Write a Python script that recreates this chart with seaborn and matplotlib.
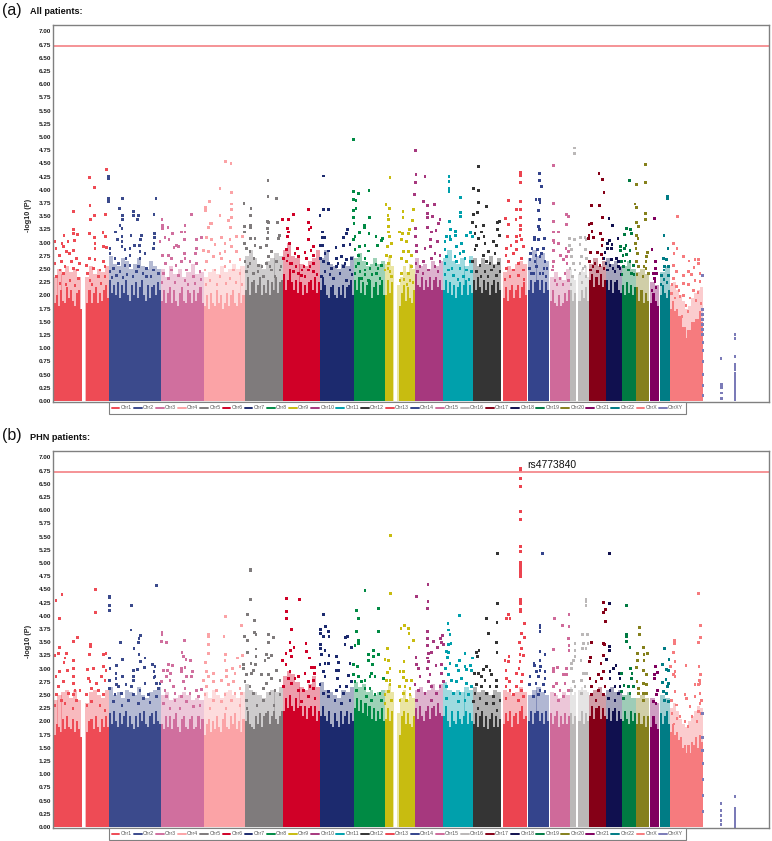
import matplotlib
matplotlib.use('Agg')
import matplotlib.pyplot as plt
from matplotlib.lines import Line2D
import pandas as pd
import seaborn as sns

chroms = ['Chr%d' % i for i in range(1, 23)] + ['ChrX', 'ChrXY']
colors = ['#EE4B55', '#3B4A8C', '#D06F9E', '#FBA3A6', '#7F7B7C', '#D00027', '#1C2A6E', '#008A44',
          '#C8BC10', '#A6387E', '#00A0AC', '#343434', '#EC4450', '#34448C', '#CF6A9A', '#BBB8B8',
          '#850017', '#10104F', '#007A42', '#85801C', '#80005F', '#007C85', '#F67B7E', '#7B7BB8']
# genome position of each chromosome block (start, end)
starts = [53.5, 109, 160.5, 203.5, 244.5, 283, 320, 354, 385, 415, 443, 473, 503, 528, 550, 570, 589, 606, 622, 636, 650, 660, 670]
ends = [109, 160.5, 203.5, 244.5, 283, 320, 354, 385, 415, 443, 473, 501, 527, 549, 570, 589, 606, 622, 636, 649, 659, 670, 703]
threshold = 6.72
yticks = [i * 0.25 for i in range(29)]

# dense part of each chromosome, panel (a): top of the filled band along the chromosome
a_h1 = [1.85, 2.0, 1.8, 2.1, 1.9, 1.85, 2.15, 1.95, 2.1, 1.9, 1.8, 2.05, 2.1, 1.75, 0, 0, 1.85, 2.1, 1.85, 2.05, 2.15, 1.85, 2.05, 1.9, 2.1, 2.2, 1.95]
a_h2 = [2.3, 2.05, 2.2, 2.0, 2.25, 1.95, 2.2, 2.05, 2.3, 2.0, 1.9, 2.2, 2.0, 2.25, 1.95, 2.15, 2.3, 2.0, 1.9, 2.2, 1.95, 2.15, 2.2, 2.0, 2.25, 2.1]
a_h3 = [1.9, 2.1, 1.85, 2.05, 2.15, 1.85, 2.1, 1.9, 1.8, 2.05, 2.15, 1.9, 1.85, 2.1, 2.05, 1.85, 2.1, 1.9, 2.05, 2.15, 1.85]
a_h4 = [1.8, 2.0, 1.75, 2.05, 1.85, 1.8, 2.1, 1.85, 2.0, 1.75, 1.85, 2.05, 1.8, 2.0, 2.1, 1.85, 1.8, 2.05, 1.85, 2.0]
a_h5 = [2.1, 2.35, 2.0, 2.25, 2.3, 2.05, 2.2, 2.35, 2.0, 2.2, 2.05, 2.3, 2.0, 2.25, 2.1, 2.35, 2.05, 2.25, 2.3]
a_h6 = [2.4, 2.1, 2.3, 2.5, 2.25, 2.1, 2.3, 2.05, 2.25, 2.0, 2.2, 2.05, 2.25, 2.3, 2.1, 2.35, 2.05, 2.25]
a_h7 = [2.1, 2.35, 2.2, 2.0, 1.95, 2.15, 2.2, 2.0, 1.95, 2.15, 2.0, 2.2, 1.95, 2.15, 2.2, 2.3, 2.0]
a_h8 = [2.3, 2.1, 2.35, 2.05, 2.25, 2.0, 2.2, 2.3, 1.95, 2.15, 2.25, 2.0, 2.2, 2.3, 2.0]
a_h9 = [2.0, 2.3, 2.05, 2.25, 0, 0, 0, 1.8, 2.05, 2.2, 1.9, 2.15, 1.95, 1.85, 2.1]
a_h10 = [2.4, 2.2, 2.15, 2.35, 2.1, 2.3, 2.15, 2.35, 2.1, 2.3, 2.35, 2.15, 2.3, 2.1]
a_h11 = [2.1, 2.3, 2.05, 2.25, 2.0, 2.2, 1.95, 2.15, 2.25, 2.0, 2.2, 2.3, 2.0, 2.2, 2.05]
a_h12 = [2.3, 2.1, 2.35, 2.15, 2.05, 2.3, 2.1, 2.25, 2.0, 2.2, 2.3, 2.05, 2.25, 2.1]
a_h13 = [1.95, 2.15, 1.9, 2.1, 2.2, 1.95, 2.1, 2.2, 1.95, 2.15, 2.25, 2.0]
a_h14 = [2.1, 2.3, 2.05, 2.25, 2.3, 2.1, 2.3, 2.05, 2.25, 2.1]
a_h15 = [1.9, 2.1, 1.85, 1.8, 2.0, 1.8, 1.85, 2.05, 1.9, 2.1]
a_h16 = [2.1, 1.9, 2.05, 0, 1.9, 2.1, 1.95, 2.15, 1.9]
a_h17 = [2.3, 2.4, 2.15, 2.35, 2.2, 2.4, 2.15, 2.3]
a_h18 = [2.3, 2.1, 2.3, 2.05, 2.25, 2.3, 2.1, 2.05]
a_h19 = [2.2, 2.0, 2.25, 2.05, 2.2, 2.0, 2.15]
a_h20 = [2.15, 1.9, 2.1, 1.85, 2.05, 1.9]
a_h21 = [1.85, 2.05, 1.9, 1.8]
a_h22 = [2.0, 2.2, 2.05, 1.95, 2.1]
a_hX = [1.75, 1.9, 1.7, 1.75, 1.6, 1.6, 1.4, 1.4, 1.2, 1.35, 1.35, 1.5, 1.5, 1.55, 1.55, 1.7, 1.5]

# dense part, panel (b)
b_h1 = [1.75, 1.95, 1.9, 1.8, 2.05, 1.85, 2.1, 1.9, 1.85, 2.05, 1.8, 2.0, 1.85, 1.7, 0, 0, 1.8, 2.0, 2.05, 1.85, 2.1, 1.9, 1.8, 2.05, 1.9, 2.1, 1.9]
b_h2 = [2.15, 1.95, 2.2, 2.0, 1.9, 2.15, 1.95, 2.1, 2.2, 1.9, 2.1, 1.95, 1.85, 2.1, 1.9, 2.15, 2.0, 2.2, 1.95, 1.9, 2.1, 2.15, 1.95, 2.2, 2.0, 1.95]
b_h3 = [1.95, 1.85, 2.1, 1.9, 2.1, 1.85, 2.05, 2.15, 1.9, 1.8, 2.05, 2.1, 1.9, 1.85, 2.05, 2.1, 1.85, 1.9, 2.1, 1.85, 2.05]
b_h4 = [1.75, 1.95, 2.05, 1.8, 2.0, 1.85, 2.1, 1.9, 1.8, 2.05, 2.15, 1.9, 1.85, 2.1, 1.95, 2.15, 1.85, 2.0, 1.8, 2.05]
b_h5 = [2.0, 2.2, 1.95, 1.9, 1.85, 2.1, 1.95, 2.15, 1.9, 2.1, 2.15, 2.2, 1.95, 2.1, 2.2, 2.05, 1.95, 2.1, 2.2]
b_h6 = [2.2, 2.45, 2.25, 2.5, 2.3, 2.2, 2.45, 2.25, 2.3, 2.1, 2.3, 2.05, 2.25, 2.3, 2.1, 2.3, 2.0, 2.2]
b_h7 = [2.1, 2.3, 2.1, 2.0, 2.2, 1.95, 1.9, 2.15, 2.0, 1.9, 2.2, 1.95, 2.1, 2.2, 1.95, 2.15, 2.0]
b_h8 = [2.25, 2.45, 2.2, 2.4, 2.15, 2.35, 2.1, 2.3, 2.05, 2.25, 2.0, 2.2, 2.05, 2.25, 2.0]
b_h9 = [2.05, 2.25, 2.0, 2.2, 0, 0, 0, 1.75, 2.1, 2.2, 1.95, 2.15, 1.95, 1.9, 2.1]
b_h10 = [2.25, 2.05, 2.3, 2.1, 2.0, 2.2, 2.3, 2.05, 2.25, 2.3, 2.1, 2.35, 2.15, 2.1]
b_h11 = [2.1, 2.3, 2.0, 1.9, 2.2, 2.0, 1.95, 2.2, 2.05, 1.95, 2.1, 2.2, 1.95, 2.15, 2.0]
b_h12 = [1.95, 2.15, 1.9, 2.1, 2.2, 1.9, 2.1, 1.85, 2.05, 2.15, 1.9, 2.1, 1.9, 2.05]
b_h13 = [1.95, 2.15, 2.0, 2.2, 1.9, 2.1, 2.15, 1.95, 2.2, 2.3, 2.05, 2.1]
b_h14 = [2.0, 2.2, 1.95, 2.15, 2.2, 2.0, 2.15, 1.95, 2.2, 2.0]
b_h15 = [2.15, 1.95, 2.1, 2.2, 1.9, 2.1, 1.95, 2.15, 1.95, 2.1]
b_h16 = [2.15, 1.95, 2.1, 0, 2.0, 2.2, 1.95, 2.15, 2.0]
b_h17 = [2.1, 2.3, 2.05, 2.25, 2.3, 2.05, 2.25, 2.1]
b_h18 = [2.05, 2.25, 2.0, 2.2, 2.25, 2.0, 2.2, 2.05]
b_h19 = [2.0, 2.2, 2.05, 1.95, 2.2, 2.0, 2.15]
b_h20 = [1.95, 2.15, 1.95, 2.1, 1.9, 2.1]
b_h21 = [1.9, 2.1, 1.95, 1.85]
b_h22 = [2.15, 1.95, 2.1, 2.2, 1.95]
b_hX = [1.8, 1.95, 1.75, 1.8, 1.65, 1.7, 1.5, 1.55, 1.4, 1.55, 1.4, 1.6, 1.55, 1.7, 1.5, 1.75, 1.6]

# top of the looser cloud of points over the dense part, panel (a)
a_c1 = [2.35, 2.5, 2.4, 2.55, 2.45, 2.5, 2.35, 0, 2.35, 2.55, 2.4, 2.5, 2.45, 2.55]
a_c2 = [2.75, 2.6, 2.55, 2.7, 2.65, 2.5, 2.6, 2.7, 2.55, 2.5, 2.65, 2.55, 2.5]
a_c3 = [2.5, 2.35, 2.55, 2.4, 2.5, 2.35, 2.45, 2.6, 2.4, 2.45]
a_c4 = [2.35, 2.45, 2.5, 2.4, 2.55, 2.45, 2.5, 2.6, 2.5, 2.55]
a_c5 = [2.75, 2.85, 2.7, 2.6, 2.5, 2.65, 2.7, 2.8, 2.75]
a_c6 = [2.85, 3.0, 2.75, 2.7, 2.6, 2.55, 2.65, 2.7, 2.85]
a_c7 = [2.7, 2.85, 2.6, 2.55, 2.5, 2.6, 2.55, 2.75]
a_c8 = [2.7, 2.8, 2.65, 2.55, 2.6, 2.7, 2.6, 2.65]
a_c9 = [2.6, 2.75, 2.55, 0, 2.2, 2.35, 2.55, 2.45, 2.6, 2.5]
a_c10 = [2.7, 2.55, 2.6, 2.5, 2.65, 2.55, 2.65]
a_c11 = [2.7, 2.85, 2.65, 2.6, 2.7, 2.55, 2.75]
a_c12 = [2.7, 2.55, 2.7, 2.6, 2.75, 2.6, 2.7]
a_c13 = [2.45, 2.55, 2.5, 2.6, 2.65, 2.6]
a_c14 = [2.7, 2.85, 2.75, 2.8, 2.65]
a_c15 = [2.35, 2.45, 2.35, 2.3, 2.5]
a_c16 = [2.5, 2.35, 2.3, 0, 2.4, 2.5, 2.45, 2.55, 2.35]
a_c17 = [2.6, 2.7, 2.55, 2.65]
a_c18 = [2.7, 2.6, 2.65, 2.55]
a_c19 = [2.55, 2.65, 2.5]
a_c20 = [2.45, 2.5, 2.4]
a_c21 = [2.25, 2.2]
a_c22 = [2.45, 2.55]
a_cX = [2.2, 2.25, 2.1, 2.0, 1.9, 1.75, 1.8, 1.95, 2.05, 2.1, 2.15]

# looser cloud, panel (b)
b_c1 = [2.4, 2.5, 2.55, 2.6, 2.45, 2.6, 2.4, 0, 2.35, 2.55, 2.6, 2.5, 2.45, 2.6]
b_c2 = [2.65, 2.5, 2.55, 2.45, 2.6, 2.55, 2.5, 2.65, 2.5, 2.45, 2.55, 2.6, 2.65]
b_c3 = [2.5, 2.55, 2.4, 2.45, 2.5, 2.55, 2.5, 2.4, 2.45, 2.4]
b_c4 = [2.55, 2.45, 2.6, 2.5, 2.45, 2.55, 2.6, 2.5, 2.45, 2.55]
b_c5 = [2.7, 2.6, 2.55, 2.5, 2.45, 2.55, 2.6, 2.55, 2.65]
b_c6 = [2.85, 2.95, 2.9, 2.75, 2.65, 2.6, 2.7, 2.85, 2.65]
b_c7 = [2.75, 2.6, 2.55, 2.5, 2.45, 2.6, 2.55, 2.65]
b_c8 = [2.75, 2.65, 2.7, 2.55, 2.6, 2.5, 2.55, 2.6]
b_c9 = [2.6, 2.7, 2.55, 0, 2.15, 2.45, 2.6, 2.4, 2.5, 2.45]
b_c10 = [2.6, 2.65, 2.55, 2.6, 2.7, 2.6, 2.7]
b_c11 = [2.75, 2.6, 2.55, 2.6, 2.55, 2.65, 2.6]
b_c12 = [2.65, 2.55, 2.6, 2.55, 2.5, 2.6, 2.55]
b_c13 = [2.6, 2.55, 2.5, 2.55, 2.65, 2.55]
b_c14 = [2.5, 2.6, 2.65, 2.55, 2.5]
b_c15 = [2.55, 2.5, 2.45, 2.55, 2.5]
b_c16 = [2.65, 2.5, 2.55, 0, 2.6, 2.65, 2.6, 2.6, 2.55]
b_c17 = [2.5, 2.6, 2.65, 2.5]
b_c18 = [2.6, 2.65, 2.55, 2.6]
b_c19 = [2.5, 2.55, 2.45]
b_c20 = [2.45, 2.5, 2.45]
b_c21 = [2.45, 2.35]
b_c22 = [2.5, 2.45]
b_cX = [2.25, 2.35, 2.2, 2.05, 1.95, 1.9, 2.0, 2.1, 2.2, 2.3, 2.25]

# points above the dense part, panel (a): (position, -log10 P)
a_p1 = [(106.3,4.39),(89.7,4.23),(94.7,4.04),(90,3.7),(73.3,3.58),(105.3,3.53),(94.7,3.52),(90.7,3.43),(73.3,3.25),(73.3,3.17),(77.3,3.15),(64,3.13),(89.3,3.17),(103,3.19),(105.3,3.12),(94.7,3.1),(68,3.02),(74.7,3.03),(62,2.98),(54.7,3.02),(95,2.99),(95,2.89),(103.3,2.92),(106.7,2.91),(56,2.89),(63.3,2.92),(66.7,2.83),(73.3,2.85),(59.3,2.76),(69.3,2.79),(76.7,2.7),(55,2.61),(61.7,2.64),(71.7,2.64),(79.3,2.61),(89.3,2.7),(95,2.67),(103.3,2.64),(60,2.48),(65,2.54),(73.3,2.51),(77.3,2.48),(86.7,2.57),(93.3,2.51),(100,2.48),(105,2.54),(56.7,2.35),(63.3,2.41),(70,2.29),(78.3,2.32),(87.3,2.41),(90,2.29),(98.3,2.35),(105,2.35),(60,2.23),(66,2.2),(75,2.18),(92,2.2),(101,2.22)]
a_p2 = [(108.7,4.26),(108.7,4.22),(108.7,3.84),(108.7,3.79),(108.7,3.77),(122.3,3.83),(156,3.83),(119.7,3.64),(133.3,3.58),(133.3,3.51),(154,3.53),(122.3,3.51),(122.3,3.43),(138.3,3.51),(137.3,3.43),(120,3.33),(122,3.27),(115.3,3.2),(131,3.14),(141.3,3.14),(154.7,3.17),(154.7,3.1),(122,3.11),(122,3.02),(117.3,3.05),(140.7,3.05),(154,2.98),(134.3,2.95),(139.3,2.95),(122,2.92),(110,2.89),(153.3,2.89),(110,2.79),(130,2.89),(140,2.83),(125,2.86),(130,2.76),(145,2.79),(115,2.7),(126,2.7),(140,2.7),(118.3,2.61),(125,2.57),(138.3,2.54),(113.3,2.51),(130,2.57),(146.7,2.51),(153.3,2.48),(110,2.45),(120,2.45),(136.7,2.45),(158.3,2.41),(146.7,2.35),(116.7,2.38),(127,2.4),(112,2.33),(143,2.42),(123,2.33),(151,2.36),(133,2.35)]
a_p3 = [(162,3.43),(162.7,3.33),(162.7,3.26),(168,3.29),(191.7,3.53),(185,3.33),(181.7,3.2),(185,3.2),(172.7,3.17),(165,3.1),(184.3,3.06),(169,3.06),(196.7,3.06),(201.7,3.1),(160,3.02),(176.7,2.95),(174,2.91),(178.3,2.92),(196.7,2.89),(162.7,2.76),(168.3,2.76),(184.3,2.79),(195.7,2.79),(171.7,2.7),(185,2.7),(165.7,2.61),(176,2.57),(181.7,2.64),(190,2.64),(196.7,2.61),(171.7,2.48),(163.3,2.41),(186.7,2.48),(200,2.45),(178.3,2.38),(193.3,2.35),(168.3,2.32),(185,2.29),(175,2.25),(195,2.22),(162,2.25),(188,2.2),(201,2.3)]
a_p4 = [(225.3,4.53),(231,4.49),(220,4.02),(231.3,3.94),(209.7,3.77),(205.7,3.67),(205.7,3.6),(231.3,3.73),(231.3,3.62),(220,3.51),(231.7,3.48),(228.3,3.41),(210,3.36),(211.7,3.36),(208.7,3.29),(230.7,3.29),(206.7,3.1),(211.7,3.05),(221.3,3.1),(230,3.05),(236.7,3.11),(242.7,3.11),(215,2.97),(225,2.99),(231.7,2.92),(203.3,2.85),(208.3,2.83),(220,2.79),(225,2.83),(236.7,2.83),(213.3,2.73),(221.7,2.7),(206.7,2.64),(230,2.64),(240,2.67),(205,2.48),(215,2.48),(225,2.54),(233.3,2.48),(220,2.35),(210,2.29),(230,2.32),(240,2.41),(236,2.25),(217,2.2),(226,2.22),(206,2.2),(242,2.2)]
a_p5 = [(268,4.18),(268,3.88),(276.7,3.83),(244,3.74),(251,3.64),(250.3,3.51),(267.3,3.39),(268.7,3.38),(277.3,3.38),(250.3,3.33),(250.3,3.29),(244.3,3.3),(267.3,3.27),(244.3,3.2),(268,3.19),(279.3,3.14),(278.3,3.08),(267.7,3.08),(250.7,3.08),(255,3.08),(244.3,2.99),(255,2.95),(266.7,2.95),(246.7,2.89),(260.7,2.91),(250,2.83),(271.7,2.83),(268.3,2.73),(254,2.7),(245,2.64),(250,2.61),(258.3,2.57),(266.7,2.61),(276.7,2.64),(271.7,2.48),(280,2.48),(246.7,2.45),(253.3,2.41),(263.3,2.35),(275,2.35),(258,2.45),(248,2.55),(270,2.55),(281,2.55),(262,2.55)]
a_p6 = [(282.3,3.44),(288.3,3.44),(293.3,3.53),(287.3,3.26),(288.7,3.2),(308.3,3.63),(308.7,3.38),(311,3.29),(309,3.25),(308.3,3.05),(287.3,3.11),(289.3,2.98),(297.3,2.89),(295,2.79),(313.3,2.93),(311,2.85),(305,2.81),(313.3,2.76),(306.7,2.7),(286.7,2.86),(283.3,2.7),(298.3,2.73),(290,2.61),(313.3,2.61),(304,2.54),(308.3,2.48),(313.3,2.45),(293.3,2.45),(301.7,2.38),(305,2.35),(298.3,2.41),(288,2.75),(287,2.65),(292,2.6),(310,2.55),(302,2.48),(317,2.4),(296,2.55)]
a_p7 = [(323.3,4.26),(323.3,3.63),(328.7,3.63),(320,3.51),(322.7,3.2),(322,3.1),(324.3,3.09),(347.3,3.25),(346.7,3.17),(343.3,3.1),(343.3,2.94),(350,2.96),(320.7,2.94),(322.7,2.94),(336,2.91),(328.7,2.84),(325,2.79),(320.7,2.7),(323.3,2.64),(328.3,2.61),(336.7,2.7),(341.7,2.73),(346.7,2.67),(351.7,2.7),(336.7,2.54),(343.3,2.54),(331.7,2.51),(350,2.48),(325,2.45),(340,2.41),(321.7,2.35),(333.3,2.32),(346.7,2.29),(338,2.6),(345,2.6),(330,2.4),(352,2.4)]
a_p8 = [(353.3,4.96),(353.3,3.96),(358.3,3.92),(369,3.98),(353.3,3.82),(356,3.8),(356,3.65),(353.3,3.6),(369.3,3.48),(353.3,3.48),(354,3.36),(364.3,3.33),(364.3,3.28),(359.3,3.19),(369,3.17),(355,3.11),(353.3,3.05),(376,3.11),(382.3,3.08),(381.7,3.03),(377.3,2.95),(365,2.95),(359.3,2.92),(355,2.87),(368.3,2.84),(358.3,2.76),(365,2.7),(376,2.58),(381.7,2.57),(358.3,2.61),(370,2.51),(365,2.48),(355,2.41),(376.7,2.41),(361.7,2.32),(368.3,2.29),(380,2.32),(367,2.6),(356,2.55),(365,2.4),(372,2.4),(378,2.5),(360,2.45)]
a_p9 = [(390,4.23),(386,3.72),(389.3,3.65),(403,3.58),(413.7,3.63),(388,3.52),(388.7,3.43),(403,3.48),(412.3,3.41),(388.7,3.3),(399.3,3.2),(409.3,3.25),(388.7,3.2),(402.7,3.17),(408.3,3.17),(389.3,3.11),(401.7,3.05),(406.7,3.02),(391.7,2.99),(387.3,2.92),(403.3,2.83),(408.3,2.83),(411.7,2.76),(401.7,2.7),(386.7,2.76),(390.7,2.73),(388.3,2.61),(406.7,2.64),(411.7,2.54),(401.7,2.41),(408.3,2.41),(385,2.48),(391.7,2.35),(400,2.29),(410,2.29),(388,2.5),(390,2.45),(404,2.3),(407,2.2),(413,2.25)]
a_p10 = [(415.7,4.75),(416,4.28),(425,4.25),(415.7,4.13),(414.3,3.91),(423.3,3.77),(427.3,3.7),(434.7,3.72),(427.3,3.55),(427.3,3.48),(432.3,3.49),(440,3.43),(438.3,3.36),(415.7,3.27),(427.3,3.28),(431.7,3.2),(436,3.22),(415.7,3.11),(430.7,3.05),(437.3,3.02),(416.7,2.95),(430.7,2.92),(425,2.89),(440,2.76),(435,2.79),(416.7,2.83),(416,2.61),(431.7,2.7),(423.3,2.64),(440,2.64),(435,2.54),(420,2.54),(428.3,2.48),(417.3,2.45),(438,2.45),(423,2.42)]
a_p11 = [(449,4.25),(449,4.15),(449,4.02),(449,3.96),(460.7,3.85),(460.7,3.57),(460.7,3.5),(449.3,3.39),(450.7,3.24),(455.3,3.21),(455.3,3.14),(446.7,3.12),(450,3.11),(466.7,3.14),(470.7,3.19),(472.7,3.12),(445,3.02),(450.7,3.05),(461.7,2.99),(456.7,2.92),(445,2.86),(463.3,2.83),(460,2.79),(446.7,2.74),(455,2.73),(465,2.7),(445,2.61),(456.7,2.64),(470,2.64),(448.3,2.48),(460,2.51),(466.7,2.48),(453.3,2.38),(471.7,2.45),(463.3,2.35),(445,2.4),(452,2.5),(469,2.3),(458,2.3)]
a_p12 = [(478.7,4.44),(473.3,4.03),(478.7,3.99),(478.7,3.75),(486.3,3.68),(477.7,3.56),(473.3,3.54),(472.3,3.38),(483.3,3.33),(497.3,3.38),(499.3,3.39),(476,3.3),(497.3,3.25),(475,3.17),(481.7,3.2),(499.3,3.14),(478.3,3.08),(484,3.11),(476.7,2.95),(485,2.99),(493.3,3.02),(496.7,2.95),(475,2.86),(488.3,2.83),(483.3,2.76),(495,2.79),(472.7,2.64),(486.7,2.64),(480,2.57),(498.3,2.61),(491.7,2.48),(485,2.45),(496.7,2.38),(476.7,2.45),(490,2.6),(494,2.55),(481,2.35),(488,2.35),(500,2.45)]
a_p13 = [(520.3,4.33),(520.3,4.27),(520.3,4.13),(508.3,3.79),(520.3,3.77),(516.3,3.63),(520.3,3.62),(505.7,3.45),(516,3.44),(520.3,3.48),(508.3,3.35),(520.3,3.33),(520.3,3.24),(520,3.14),(507.3,3.11),(516.7,3.11),(516.7,3.02),(521.7,3.05),(511,2.95),(506.7,2.89),(516.7,2.86),(523.3,2.92),(506,2.76),(513.3,2.79),(521.7,2.7),(508.3,2.64),(518.3,2.61),(506.7,2.51),(513.3,2.48),(523.3,2.48),(510,2.35),(518.3,2.38),(524,2.3),(505,2.3)]
a_p14 = [(539.7,4.31),(539.7,4.17),(541.7,4.06),(536,3.81),(539.7,3.81),(540,3.76),(538.7,3.6),(539.7,3.44),(538.3,3.3),(539.7,3.25),(534.7,3.1),(534.7,3.06),(538.7,3.06),(544.3,3.07),(532,2.89),(537.3,2.87),(543.3,2.89),(530.7,2.79),(536,2.76),(541.7,2.79),(535,2.64),(545,2.64),(530,2.67),(540,2.73),(529.3,2.51),(536.7,2.54),(544,2.51),(533.3,2.41),(540,2.41),(546,2.35),(531,2.42),(543,2.42),(547,2.5)]
a_p15 = [(553.7,4.46),(553.7,3.74),(566.3,3.53),(568.3,3.5),(553.7,3.39),(566.3,3.35),(553.7,3.2),(558.7,3.2),(553.7,3.04),(554,3),(558.7,2.98),(566,2.89),(553.3,2.85),(568.3,2.83),(560.7,2.76),(566.7,2.73),(553.3,2.64),(563.3,2.67),(552.7,2.48),(560,2.32),(565,2.41),(555,2.29),(568.3,2.29),(553,2.55),(557,2.2),(563,2.2),(567,2.6)]
a_p16 = [(574.3,4.79),(574.3,4.68),(569.3,3.07),(580.3,3.1),(585,3.1),(586,3.05),(574.3,3.05),(569.3,2.95),(580,2.96),(585.7,2.86),(571.7,2.86),(571.7,2.73),(581.7,2.73),(586.7,2.7),(573.3,2.61),(580,2.61),(570,2.51),(575,2.48),(585,2.54),(572.7,2.35),(580,2.41),(583,2.5),(586,2.35),(571,2.2),(582,2.25)]
a_p17 = [(599,4.3),(602.7,4.2),(604,3.95),(591.3,3.7),(599.3,3.7),(602.7,3.48),(589,3.35),(591.3,3.36),(592,3.21),(589,3.14),(588.3,3.08),(593.3,3.1),(600.7,3.17),(602.7,3.05),(602,2.95),(590.7,2.82),(597.3,2.82),(601.7,2.78),(589.3,2.64),(595,2.61),(603.3,2.7),(600,2.57),(590.7,2.48),(597.3,2.45),(593,2.55),(604,2.5)]
a_p18 = [(609,3.46),(612.3,3.32),(618,3.07),(609.3,3.04),(607.3,2.99),(612,2.97),(607.3,2.89),(611.7,2.89),(605,2.81),(604,2.7),(611.7,2.67),(616.7,2.7),(618.3,2.64),(610,2.57),(618.3,2.54),(607.3,2.48),(615,2.45),(620,2.51),(606,2.6),(613,2.5),(621,2.4)]
a_p19 = [(629.3,4.17),(626.3,3.27),(630.7,3.25),(631.7,3.17),(624.7,3.16),(626,2.95),(620.7,2.92),(624.7,2.89),(620.7,2.85),(626.7,2.78),(621.7,2.64),(630,2.64),(623.3,2.54),(628.3,2.48),(633.3,2.57),(631.7,2.41),(623,2.75),(630,2.85),(625,2.65),(622,2.4),(634,2.4)]
a_p20 = [(645.3,4.47),(636.7,4.1),(645.3,4.14),(635,3.73),(636.7,3.67),(645.3,3.55),(645.3,3.44),(636.7,3.38),(638.7,3.31),(636.7,3.13),(638,3.08),(635.7,2.99),(636,2.89),(647.7,2.81),(646.7,2.73),(637.3,2.8),(636.7,2.64),(646,2.64),(638.3,2.54),(644,2.54),(648.3,2.41),(637,2.4),(643,2.35),(646,2.5)]
a_p21 = [(654.3,3.46),(652,2.86),(655.7,2.64),(655.3,2.51),(653.3,2.41),(656.7,2.41),(654.3,2.32),(655,2.26),(652,2.1),(656,2.15)]
a_p22 = [(667.7,3.87),(667.7,3.83),(664,3.14),(668,2.89),(663.3,2.7),(666.7,2.67),(664.3,2.54),(668.3,2.54),(661.7,2.38),(668.3,2.38),(664,2.48),(664,2.3),(667,2.25),(661,2.2)]
a_pX = [(677.3,3.5),(673.7,2.98),(677,2.89),(674,2.8),(683.3,2.73),(698.7,2.68),(689,2.65),(695,2.67),(698.3,2.61),(673.3,2.56),(694,2.53),(676.7,2.45),(683.3,2.37),(688.3,2.46),(691.7,2.39),(700,2.41),(673.3,2.32),(683.3,2.23),(676.7,2.16),(695,2.29),(700,2.26),(688.3,2.2),(683.3,2.0),(671.7,2.04),(680,1.97),(693.3,2.1),(672,2.2),(679,2.1),(690,1.95),(698,2.05),(701,1.85),(696,1.9),(686,1.8),(675,1.95),(682,1.6),(688,1.7)]
a_pXY = [(702.4,2.37),(702.4,1.74),(702.6,1.63),(702.6,1.55),(702.6,1.45),(702.8,1.35),(702.8,1.25),(703,1.1),(703,0.95),(703,0.75),(703,0.5),(703,0.3),(703,0.1),(721,0.81),(721.3,0.32),(721.3,0.28),(721.3,0.25),(721.4,0.15),(721.4,0.05),(735,1.26),(735,1.18),(735,0.84),(735,0.7),(735,0.66),(735,0.6),(735,0.52),(735,0.47),(735,0.42),(735,0.38),(735,0.33),(735,0.28),(735,0.24),(735,0.19),(735,0.14),(735,0.1),(735,0.05),(735,0.02)]

# points above the dense part, panel (b)
b_p1 = [(62,4.41),(56,4.29),(59.3,3.94),(95.3,4.5),(95.3,4.07),(77.3,3.59),(73.3,3.52),(90.7,3.46),(90.7,3.41),(59.3,3.4),(58.3,3.28),(66.7,3.28),(55,3.24),(89.3,3.26),(106,3.28),(65,3.2),(73.3,3.15),(103.3,3.26),(64,3.12),(73.3,3),(67.3,2.97),(59.3,2.94),(87.3,2.99),(93.3,3),(103.3,3.04),(106,2.97),(88.3,2.82),(73.3,2.85),(101.7,2.85),(56,2.85),(63.3,2.75),(73.3,2.72),(90,2.75),(96.7,2.71),(105,2.78),(58.3,2.66),(75,2.59),(80,2.59),(91.7,2.63),(98.3,2.59),(68.3,2.53),(56.7,2.5),(73.3,2.5),(86.7,2.5),(103.3,2.5),(61.7,2.4),(76.7,2.4),(91.7,2.37),(65,2.34),(73,2.25),(55,2.3),(87,2.3),(100,2.3),(105,2.2)]
b_p2 = [(156.3,4.58),(109.3,4.37),(109.3,4.34),(109.3,4.2),(109.3,4.1),(131.7,4.2),(131,3.73),(140.7,3.62),(139,3.57),(138.3,3.5),(120.3,3.49),(134,3.38),(139,3.26),(109.3,3.2),(122.7,3.18),(145,3.2),(140.7,3.13),(152.7,3.08),(155,3.04),(116.3,3.05),(110,3),(137.3,2.99),(133.3,2.96),(144.3,3.02),(154,2.94),(155,2.85),(116,2.9),(122.7,2.85),(133.3,2.85),(109.3,2.77),(116,2.82),(154,2.83),(133.3,2.77),(145,2.72),(116.7,2.69),(156.7,2.72),(160,2.72),(126,2.7),(109.3,2.63),(131.7,2.66),(118.3,2.66),(158.3,2.63),(140,2.59),(121.7,2.53),(133.3,2.5),(115,2.5),(148.3,2.5),(128.3,2.4),(143.3,2.44),(156.7,2.47),(113.3,2.37),(138.3,2.34),(122,2.3),(150,2.35)]
b_p3 = [(162,3.69),(162,3.64),(161.7,3.51),(166.7,3.49),(184.3,3.53),(182,3.31),(183.3,3.23),(186,3.18),(190.7,3.16),(168.3,3.08),(172.7,3.05),(181.7,3),(185,3.02),(163.3,2.97),(167.3,2.97),(192.7,2.94),(181.7,2.94),(186.7,2.85),(166.7,2.85),(170.7,2.91),(191.7,2.85),(161.7,2.75),(170,2.78),(183.3,2.75),(173.3,2.66),(196.7,2.59),(201.7,2.61),(165,2.59),(185,2.63),(175,2.53),(190,2.53),(166.7,2.47),(181.7,2.47),(198.3,2.47),(175,2.4),(186.7,2.37),(163.3,2.34),(193.3,2.28),(200,2.3),(170,2.25),(180,2.25)]
b_p4 = [(225.7,3.99),(208.7,3.65),(208.7,3.6),(224,3.6),(208.3,3.45),(208.7,3.29),(225.7,3.27),(241.7,3.82),(242.3,3.24),(237.3,3.2),(225,3.16),(205.7,3.12),(232.3,3),(226.7,2.97),(206.7,2.94),(240,3.04),(213.3,2.9),(235,2.91),(208.3,2.85),(226.7,2.85),(203.3,2.78),(213.3,2.75),(221.7,2.78),(233.3,2.75),(206.7,2.66),(228.3,2.69),(240,2.63),(216.7,2.59),(235,2.53),(225,2.5),(205,2.5),(213.3,2.4),(241.7,2.53),(221.7,2.37),(231.7,2.4),(210,2.25),(240,2.3),(226,2.25)]
b_p5 = [(250.7,4.88),(250.7,4.85),(250.7,4.31),(247.3,4.03),(254.3,3.91),(254.7,3.68),(256,3.65),(244.3,3.61),(247.3,3.53),(268.3,3.65),(273.7,3.58),(268.3,3.5),(256,3.37),(247.3,3.3),(266.7,3.27),(271.7,3.24),(265,3.15),(268.3,3.2),(256,3.23),(251,3.1),(255.3,3.07),(243.3,3.07),(243.3,3),(253.3,2.97),(246.7,2.88),(251.7,2.91),(261.7,2.88),(276.7,2.96),(268.3,2.88),(271.7,2.82),(245,2.75),(250,2.66),(266.7,2.72),(280,2.78),(263.3,2.63),(275,2.59),(253.3,2.53),(270,2.53),(246.7,2.4),(263.3,2.4),(280,2.5),(257,2.3),(274,2.3),(247,2.25)]
b_p6 = [(286.3,4.32),(299.3,4.3),(286.3,4.08),(286.3,3.94),(291.3,3.74),(290,3.5),(306,3.47),(294,3.4),(290.7,3.34),(286,3.29),(306.7,3.32),(291.7,3.23),(282.7,3.16),(309.3,3.2),(286,3.07),(311.7,3.02),(314.3,3.02),(290,2.94),(298.3,2.85),(283.3,2.66),(295,2.82),(305,2.91),(314.3,2.9),(313.3,2.78),(308.3,2.75),(310,2.66),(303.3,2.59),(313.3,2.63),(288.3,2.82),(298.3,2.59),(291.7,2.72),(301.7,2.37),(308.3,2.47),(315,2.44)]
b_p7 = [(323.7,4.02),(325.7,3.79),(328.3,3.71),(320.7,3.74),(320.7,3.67),(323.3,3.6),(329,3.6),(320.7,3.45),(320.7,3.38),(325,3.35),(321.7,3.26),(345.3,3.58),(347.7,3.61),(345,3.45),(351.7,3.4),(329,3.25),(336.7,3.23),(328.3,3.1),(338.3,3.11),(320,3.07),(325,3.09),(323.3,2.94),(350,3.09),(338.3,2.96),(336,2.97),(348.3,2.86),(325,2.85),(320,2.69),(337.3,2.82),(340,2.66),(346.7,2.66),(351.7,2.75),(328.3,2.56),(336.7,2.59),(323.3,2.53),(343.3,2.53),(350,2.4),(335,2.4),(328.3,2.47),(341.7,2.34)]
b_p8 = [(365,4.48),(378.3,4.14),(356.7,4.1),(358.3,3.94),(356.7,3.71),(378.3,3.71),(358.3,3.54),(358.3,3.48),(355,3.43),(373.3,3.34),(368.3,3.26),(373.3,3.23),(378.3,3.26),(353.3,3.07),(357.3,3.03),(368.3,3.16),(372.7,3.07),(371.7,2.91),(370,2.85),(353.3,2.88),(358.3,2.85),(365,2.78),(375,2.85),(383.3,2.82),(361.7,2.75),(355,2.75),(370,2.63),(365,2.63),(380,2.53),(375,2.5),(366.7,2.47),(371.7,2.4),(356.7,2.59),(381.7,2.4)]
b_p9 = [(390.3,5.52),(390.3,4.43),(387.3,3.38),(404.3,3.82),(401,3.75),(408.3,3.76),(409,3.67),(413.7,3.53),(409,3.4),(385,3.17),(388.3,3.16),(404,3.13),(390,3),(400,2.94),(403.3,2.94),(387.7,2.92),(403.3,2.83),(386.7,2.78),(390,2.78),(406.7,2.78),(411.7,2.77),(399.3,2.66),(410,2.63),(390,2.69),(405,2.66),(388.3,2.56),(403.3,2.53),(385,2.5),(410,2.5),(400,2.4),(406.7,2.4),(385,2.34),(391.7,2.4)]
b_p10 = [(428,4.6),(416.3,4.37),(428,4.27),(427.3,4.13),(427.3,3.71),(427.7,3.57),(427.7,3.43),(433.3,3.51),(437.3,3.4),(442.7,3.62),(440.7,3.57),(441.7,3.49),(443.3,3.45),(428.3,3.29),(431.7,3.3),(416,3.21),(427.7,3.2),(416.7,3.07),(418.3,3),(428.3,3.13),(436,3.05),(441.7,3.07),(427.3,3),(441.7,2.91),(420,2.85),(430,2.88),(415,2.69),(428.3,2.75),(443.3,2.75),(431.7,2.66),(418.3,2.59),(440,2.66),(425,2.53),(436.7,2.53),(416.7,2.4),(431.7,2.4)]
b_p11 = [(459.3,4),(448,3.85),(448.7,3.73),(450,3.65),(451,3.48),(448.3,3.45),(446.7,3.32),(448.3,3.3),(447.7,3.21),(465,3.29),(472.3,3.2),(459.3,3.16),(450,3.1),(456.7,3.05),(465,3.03),(470.7,3.05),(445.7,3),(458.3,2.97),(466.7,2.99),(471.7,2.97),(448.3,2.88),(451.7,2.78),(461.7,2.82),(456.7,2.75),(466.7,2.72),(446.7,2.66),(471.7,2.66),(460,2.53),(453.3,2.53),(468.3,2.5),(446.7,2.44),(458.3,2.37),(465,2.4)]
b_p12 = [(497.3,5.18),(497.3,4.24),(486.7,3.94),(497,3.88),(488.7,3.66),(496.3,3.5),(497,3.31),(479,3.35),(476.7,3.3),(477.7,3.23),(486.7,3.03),(483.3,2.99),(490,2.97),(474.3,2.91),(478.3,2.9),(481.7,2.85),(491.7,2.88),(496.7,2.78),(485,2.78),(476.7,2.69),(490,2.66),(496.7,2.66),(481.7,2.66),(475,2.53),(486.7,2.53),(493.3,2.47),(480,2.44),(500,2.4),(473.3,2.37),(486.7,2.34),(493.3,2.34),(478,2.25),(497,2.2)]
b_p13 = [(520.7,5.32),(520.7,5.21),(520.7,5),(520.7,4.96),(520.7,4.9),(520.7,4.86),(520.7,4.82),(520.7,4.78),(520.7,4.74),(520.7,4.3),(520.7,4.27),(520.7,4.24),(520.7,4.12),(520.7,4.08),(508.3,4.02),(510,3.95),(506.7,3.95),(524.3,3.85),(521.3,3.67),(524.3,3.59),(519.3,3.5),(521.7,3.38),(509,3.23),(520,3.26),(523.3,3.24),(505,3.15),(508.3,3.13),(520,3.13),(519,3),(506,2.97),(516.7,2.9),(522.7,2.88),(506.7,2.82),(509.3,2.75),(506,2.66),(510,2.59),(521.7,2.75),(516.7,2.66),(521.7,2.59),(513.3,2.5),(506,2.44),(523.3,2.47),(518.3,2.4),(520.7,6.78),(520.7,6.75),(520.7,6.6),(520.7,6.45),(520.7,5.98),(520.7,5.82)]
b_p14 = [(542.3,5.18),(540,3.81),(540,3.77),(540,3.7),(540,3.33),(545,3.27),(540,3.16),(534,3.1),(534.3,3.05),(540.7,3.04),(530,2.85),(536.7,2.94),(540,2.97),(545,2.94),(538.3,2.85),(545,2.82),(529.3,2.69),(543.3,2.69),(536,2.72),(540,2.59),(545,2.56),(533.3,2.47),(538.3,2.5)]
b_p15 = [(569,4.03),(554.3,3.94),(562.7,3.81),(569,3.79),(568.3,3.56),(569,3.43),(553.3,3.36),(569,3.34),(553.3,3),(557.3,3.02),(553.3,2.94),(563.3,2.88),(566.7,3),(566.7,2.88),(556.7,2.72),(565,2.72),(553.3,2.66),(560,2.59),(568.3,2.59),(555,2.5),(563.3,2.47),(558.3,2.4)]
b_p16 = [(586,4.31),(586,4.27),(586,4.2),(582.7,3.64),(587.3,3.64),(575,3.48),(583.3,3.48),(588,3.48),(575,3.35),(582.7,3.38),(586,3.38),(575,3.23),(581,3.15),(573.3,3.15),(571.7,3.09),(571.7,3),(583.3,2.91),(586.7,2.91),(573.3,2.75),(581.7,2.78),(575,2.66),(571.7,2.59),(585,2.66),(581.7,2.53)]
b_p17 = [(603.3,4.25),(605.3,4.12),(603.3,4.07),(605.3,3.89),(591.3,3.5),(603.3,3.48),(604.3,3.45),(603.3,3.24),(590.7,3.21),(589.3,3.13),(601,3.1),(590,2.82),(598.3,2.88),(603.3,2.94),(596,2.75),(601.7,2.82),(605,2.66),(591.7,2.66),(598.3,2.59),(603.3,2.5),(591.7,2.5),(596,2.4)]
b_p18 = [(609.7,5.18),(609.7,4.24),(609.3,3.41),(609.3,3.35),(606.3,3.17),(616,3.05),(613.3,3),(610,2.94),(619.3,2.91),(610,2.82),(620,2.82),(615,2.66),(620,2.66),(610,2.59),(618.3,2.53),(608.3,2.44),(615,2.4)]
b_p19 = [(626.7,4.19),(626.7,3.64),(626.7,3.6),(626.7,3.52),(630,3.4),(630.3,3),(621.7,2.91),(632,2.91),(631.7,2.82),(624,2.67),(628.3,2.66),(633.3,2.66),(621.7,2.56),(630,2.53),(623.3,2.44)]
b_p20 = [(639.3,3.78),(639.3,3.64),(643.3,3.4),(637.3,3.28),(644,3.27),(647.7,3.28),(637.3,3.15),(644,3.16),(636.7,3.02),(643.3,2.97),(646.7,2.88),(637,2.75),(643.3,2.72),(646.7,2.69),(638.3,2.63),(643.3,2.53),(646.7,2.53),(638.3,2.53),(643.3,2.4)]
b_p21 = [(655.3,3.04),(657.3,2.92),(654.7,2.89),(654.7,2.82),(657.7,2.59),(656.7,2.5),(653.3,2.37),(656,2.34)]
b_p22 = [(664.3,3.38),(669,3.18),(662.7,3.07),(666.7,2.99),(668.3,2.96),(666,2.8),(662.3,2.73),(668.3,2.72),(667.7,2.66),(663.3,2.56),(666.7,2.53),(664.3,2.4),(668.3,2.37)]
b_pX = [(698.7,4.43),(700.3,3.81),(700.3,3.58),(698.7,3.49),(674.3,3.54),(674.3,3.48),(673.3,3.3),(675,3.13),(670.7,3.04),(675,2.94),(686,3.06),(699,3.04),(700.3,2.88),(673.3,2.88),(675,2.85),(699.3,2.78),(700,2.72),(695,2.69),(698.3,2.69),(675,2.56),(685,2.5),(695,2.47),(700,2.53),(676.7,2.31),(690,2.29),(700,2.34),(671.7,2.4),(686.7,2.44),(701.7,2.4),(698.3,2.18),(680,2.09),(701.7,2.15),(672,2.15),(677,2.05),(685,2.0),(692,2.1),(697,2.0),(688,1.9),(674,1.95)]
b_pXY = [(702.5,2.15),(702.6,1.7),(702.8,1.45),(703,1.2),(703,0.9),(703,0.6),(703,0.3),(721,0.45),(721,0.32),(721,0.22),(721,0.12),(721,0.05),(735,0.58),(735,0.35),(735,0.3),(735,0.25),(735,0.2),(735,0.15),(735,0.1),(735,0.05),(735,0.01)]

a_bands = [a_h1, a_h2, a_h3, a_h4, a_h5, a_h6, a_h7, a_h8, a_h9, a_h10, a_h11, a_h12, a_h13, a_h14, a_h15, a_h16, a_h17, a_h18, a_h19, a_h20, a_h21, a_h22, a_hX]
b_bands = [b_h1, b_h2, b_h3, b_h4, b_h5, b_h6, b_h7, b_h8, b_h9, b_h10, b_h11, b_h12, b_h13, b_h14, b_h15, b_h16, b_h17, b_h18, b_h19, b_h20, b_h21, b_h22, b_hX]
a_clouds = [a_c1, a_c2, a_c3, a_c4, a_c5, a_c6, a_c7, a_c8, a_c9, a_c10, a_c11, a_c12, a_c13, a_c14, a_c15, a_c16, a_c17, a_c18, a_c19, a_c20, a_c21, a_c22, a_cX]
b_clouds = [b_c1, b_c2, b_c3, b_c4, b_c5, b_c6, b_c7, b_c8, b_c9, b_c10, b_c11, b_c12, b_c13, b_c14, b_c15, b_c16, b_c17, b_c18, b_c19, b_c20, b_c21, b_c22, b_cX]
a_points = [a_p1, a_p2, a_p3, a_p4, a_p5, a_p6, a_p7, a_p8, a_p9, a_p10, a_p11, a_p12, a_p13, a_p14, a_p15, a_p16, a_p17, a_p18, a_p19, a_p20, a_p21, a_p22, a_pX, a_pXY]
b_points = [b_p1, b_p2, b_p3, b_p4, b_p5, b_p6, b_p7, b_p8, b_p9, b_p10, b_p11, b_p12, b_p13, b_p14, b_p15, b_p16, b_p17, b_p18, b_p19, b_p20, b_p21, b_p22, b_pX, b_pXY]

palette = dict(zip(chroms, colors))

sns.set_style('white')
plt.rcParams['font.family'] = ['Liberation Sans', 'DejaVu Sans']

W, H = 772, 841
fig = plt.figure(figsize=(W / 100, H / 100), dpi=100)


def draw_columns(ax, name, start, end, band, alpha):
    w = (end - start) / len(band)
    lefts = [start + i * w for i in range(len(band))]
    ax.bar(lefts, band, width=w + 0.1, align='edge', color=palette[name], linewidth=0, alpha=alpha)


def draw_panel(top, bottom, bands, clouds, points):
    ax = fig.add_axes([53 / W, 1 - bottom / H, (769 - 53) / W, (bottom - top) / H])
    for name, start, end, band, cloud in zip(chroms, starts, ends, bands, clouds):
        draw_columns(ax, name, start, end, cloud, 0.38)
        draw_columns(ax, name, start, end, band, 1)
    frames = [pd.DataFrame(p, columns=['pos', 'p']).assign(chrom=n) for n, p in zip(chroms, points)]
    df = pd.concat(frames)
    sns.scatterplot(data=df, x='pos', y='p', hue='chrom', palette=palette, marker='s', s=4.5,
                    linewidth=0, legend=False, ax=ax)
    ax.axhline(threshold, color='#F58A8E', lw=1.3)
    ax.set_xlim(53, 769)
    ax.set_ylim(-0.02, 7.12)
    ax.set_xticks([])
    ax.set_yticks(yticks)
    ax.set_yticklabels(['%.2f' % t for t in yticks], fontsize=4.6, fontweight='bold', color='#222222')
    ax.tick_params(axis='y', length=0, pad=1.5)
    ax.set_xlabel('')
    ax.set_ylabel('-log10 (P)', fontsize=5.2, fontweight='bold')
    ax.yaxis.set_label_coords(-0.029, 0.496)
    for s in ax.spines.values():
        s.set_color('#808080')
        s.set_linewidth(1)
    handles = [Line2D([], [], color=c, lw=1.4) for c in colors]
    leg = ax.legend(handles, chroms, ncol=24, loc='upper center', bbox_to_anchor=(344.5 / 716, -0.001),
                    fontsize=3.7, frameon=True, fancybox=False, edgecolor='#808080', framealpha=1,
                    handlelength=1.5, handletextpad=0.25, columnspacing=0.4, borderpad=0.6, borderaxespad=0)
    leg.get_frame().set_linewidth(0.8)
    for t in leg.get_texts():
        t.set_color('#555555')
    return ax


ax_a = draw_panel(25, 402, a_bands, a_clouds, a_points)
ax_b = draw_panel(451, 828, b_bands, b_clouds, b_points)
ax_b.text(527, 6.86, 'rs4773840', fontsize=7.5, va='center', color='#111111')

fig.text(2 / W, 1 - 10 / H, '(a)', fontsize=11.5, va='center', color='#111111')
fig.text(30 / W, 1 - 11.5 / H, 'All patients:', fontsize=6.6, fontweight='bold', va='center', color='#111111')
fig.text(2 / W, 1 - 436 / H, '(b)', fontsize=11.5, va='center', color='#111111')
fig.text(30 / W, 1 - 437 / H, 'PHN patients:', fontsize=6.6, fontweight='bold', va='center', color='#111111')

fig.savefig('out.png', dpi=100)
